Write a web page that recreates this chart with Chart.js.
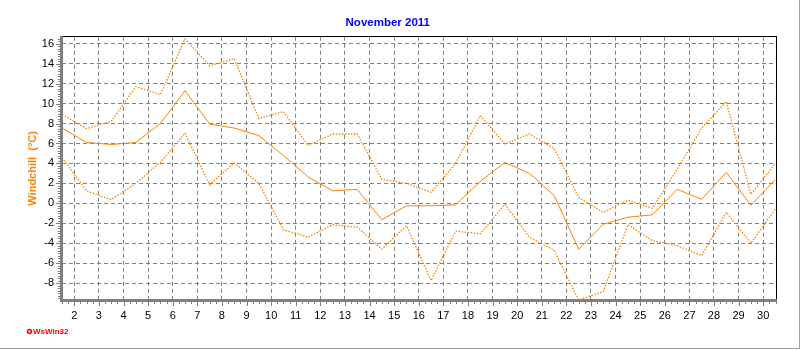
<!DOCTYPE html>
<html lang="de">
<head>
  <meta charset="UTF-8">
  <title>Windchill November 2011</title>
  <script src="https://cdn.jsdelivr.net/npm/chart.js"></script>
  <style>
    html, body { margin: 0; padding: 0; background: #ffffff; }
    #wrap { width: 800px; height: 350px; }
  </style>
</head>
<body>
  <div id="wrap">
    <canvas id="windChart" width="800" height="350"></canvas>
  </div>

  <script>
    // Tage (Messpunkt jeweils in der Tagesmitte)
    const days = [1.5, 2.5, 3.5, 4.5, 5.5, 6.5, 7.5, 8.5, 9.5, 10.5,
                  11.5, 12.5, 13.5, 14.5, 15.5, 16.5, 17.5, 18.5, 19.5, 20.5,
                  21.5, 22.5, 23.5, 24.5, 25.5, 26.5, 27.5, 28.5, 29.5, 30.5];

    // Windchill Max / Mittel / Min in °C
    const windchillMax = [8.9, 7.5, 8.2, 11.7, 10.9, 16.5, 13.8, 14.5, 8.5, 9.2,
                          5.8, 6.95, 6.95, 2.4, 2.0, 1.1, 4.0, 8.8, 5.95, 6.95,
                          5.5, 0.6, -0.9, 0.3, -0.5, 3.4, 7.55, 10.2, 0.9, 4.0];
    const windchillAvg = [7.55, 6.1, 5.9, 6.1, 8.0, 11.3, 7.95, 7.55, 6.8, 4.8,
                          2.65, 1.25, 1.4, -1.65, -0.25, -0.25, -0.15, 2.2, 4.1, 3.0,
                          0.8, -4.6, -2.1, -1.4, -1.15, 1.4, 0.4, 3.1, -0.2, 2.4];
    const windchillMin = [4.6, 1.25, 0.35, 2.0, 4.1, 7.05, 1.85, 4.05, 2.0, -2.65,
                          -3.4, -2.15, -2.4, -4.6, -2.25, -7.75, -2.8, -3.05, -0.1, -3.4,
                          -4.7, -9.7, -8.85, -2.15, -3.75, -4.25, -5.25, -0.9, -4.0, -0.55];

    // Achsenbeschriftung
    const xTicks = [2, 3, 4, 5, 6, 7, 8, 9, 10, 11, 12, 13, 14, 15, 16,
                    17, 18, 19, 20, 21, 22, 23, 24, 25, 26, 27, 28, 29, 30];
    const yTicks = [-8, -6, -4, -2, 0, 2, 4, 6, 8, 10, 12, 14, 16];

    const orange = '#ff8000';
    const gridGray = '#808080';
    const fontFam = 'Arial, "Liberation Sans", sans-serif';

    // Rahmen, Teilstriche und Logo wie bei WsWin
    const framePlugin = {
      id: 'wsFrame',
      beforeDraw(chart) {
        const ctx = chart.ctx;
        ctx.save();
        ctx.fillStyle = '#ffffff';
        ctx.fillRect(0, 0, chart.width, chart.height);
        ctx.restore();
      },
      afterDraw(chart) {
        const ctx = chart.ctx;
        const a = chart.chartArea;
        const xs = chart.scales.x;
        const ys = chart.scales.y;
        ctx.save();

        // oben und rechts schwarz
        ctx.fillStyle = '#000000';
        ctx.fillRect(Math.round(a.left), Math.round(a.top) - 1, Math.round(a.right - a.left), 1);
        ctx.fillRect(Math.round(a.right), Math.round(a.top) - 1, 1, Math.round(a.bottom - a.top) + 1);

        // links und unten grau, dick
        ctx.fillStyle = gridGray;
        ctx.fillRect(Math.round(a.left) - 2, Math.round(a.top) - 1, 3, Math.round(a.bottom - a.top) + 3);
        ctx.fillRect(Math.round(a.left) - 2, Math.round(a.bottom) - 1, Math.round(a.right - a.left) + 3, 3);

        // Teilstriche x
        for (let v = xs.min; v <= xs.max + 0.001; v += 0.25) {
          const px = Math.round(xs.getPixelForValue(v));
          const major = Math.abs(v - Math.round(v)) < 0.01;
          ctx.fillRect(px, Math.round(a.bottom) + 2, 1, major ? 4 : 2);
        }
        // Teilstriche y
        for (let v = Math.ceil(ys.min * 4) / 4; v <= ys.max + 0.001; v += 0.25) {
          const py = Math.round(ys.getPixelForValue(v));
          const major = Math.abs(v / 2 - Math.round(v / 2)) < 0.01;
          ctx.fillRect(Math.round(a.left) - (major ? 6 : 4), py, major ? 4 : 2, 1);
        }

        // Fensterrand
        ctx.fillStyle = '#a0a0a0';
        ctx.fillRect(chart.width - 1, 0, 1, 349);
        ctx.fillRect(0, 348, chart.width, 1);

        // Logo
        ctx.strokeStyle = '#ff0000';
        ctx.fillStyle = '#ff0000';
        ctx.lineWidth = 1.5;
        ctx.beginPath();
        ctx.arc(29.5, 331.5, 2, 0, Math.PI * 2);
        ctx.stroke();
        ctx.font = 'bold 8px ' + fontFam;
        ctx.textBaseline = 'middle';
        ctx.fillText('WsWin32', 33, 332);
        ctx.restore();
      }
    };

    const ctx = document.getElementById('windChart').getContext('2d');
    new Chart(ctx, {
      type: 'line',
      data: {
        labels: days,
        datasets: [
          {
            label: 'Windchill Max',
            data: windchillMax,
            borderColor: orange,
            borderWidth: 1.3,
            borderDash: [1.5, 1.5],
            pointRadius: 0,
            tension: 0,
            fill: false
          },
          {
            label: 'Windchill',
            data: windchillAvg,
            borderColor: orange,
            borderWidth: 1,
            pointRadius: 0,
            tension: 0,
            fill: false
          },
          {
            label: 'Windchill Min',
            data: windchillMin,
            borderColor: orange,
            borderWidth: 1.3,
            borderDash: [1.5, 1.5],
            pointRadius: 0,
            tension: 0,
            fill: false
          }
        ]
      },
      options: {
        responsive: false,
        animation: false,
        devicePixelRatio: 1,
        layout: { padding: { left: 0, right: 24.5, top: 0, bottom: 0 } },
        plugins: {
          legend: { display: false },
          tooltip: { enabled: false },
          title: {
            display: true,
            text: 'November 2011',
            color: '#0000ff',
            font: { family: fontFam, size: 11.5, weight: 'bold', lineHeight: 1.2 },
            padding: { top: 16, bottom: 7 }
          }
        },
        scales: {
          x: {
            type: 'linear',
            min: 1.5,
            max: 30.5,
            afterBuildTicks: (scale) => { scale.ticks = xTicks.map(v => ({ value: v })); },
            afterFit: (scale) => { scale.height = 50; },
            border: { display: false, dash: [4, 3] },
            grid: {
              color: gridGray,
              lineWidth: 1,
              drawTicks: false
            },
            ticks: {
              color: '#000000',
              font: { family: fontFam, size: 11 },
              padding: 9,
              maxRotation: 0,
              autoSkip: false
            }
          },
          y: {
            min: -9.7,
            max: 16.7,
            afterBuildTicks: (scale) => { scale.ticks = yTicks.map(v => ({ value: v })); },
            afterFit: (scale) => { scale.width = 62; },
            border: { display: false, dash: [4, 3] },
            grid: {
              color: gridGray,
              lineWidth: 1,
              drawTicks: false
            },
            ticks: {
              color: '#000000',
              font: { family: fontFam, size: 11 },
              padding: 8
            },
            title: {
              display: true,
              text: 'Windchill  (°C)',
              color: orange,
              font: { family: fontFam, size: 11, weight: 'bold', lineHeight: 1.2 },
              padding: { top: 26, bottom: 0 }
            }
          }
        }
      },
      plugins: [framePlugin]
    });
  </script>
</body>
</html>
